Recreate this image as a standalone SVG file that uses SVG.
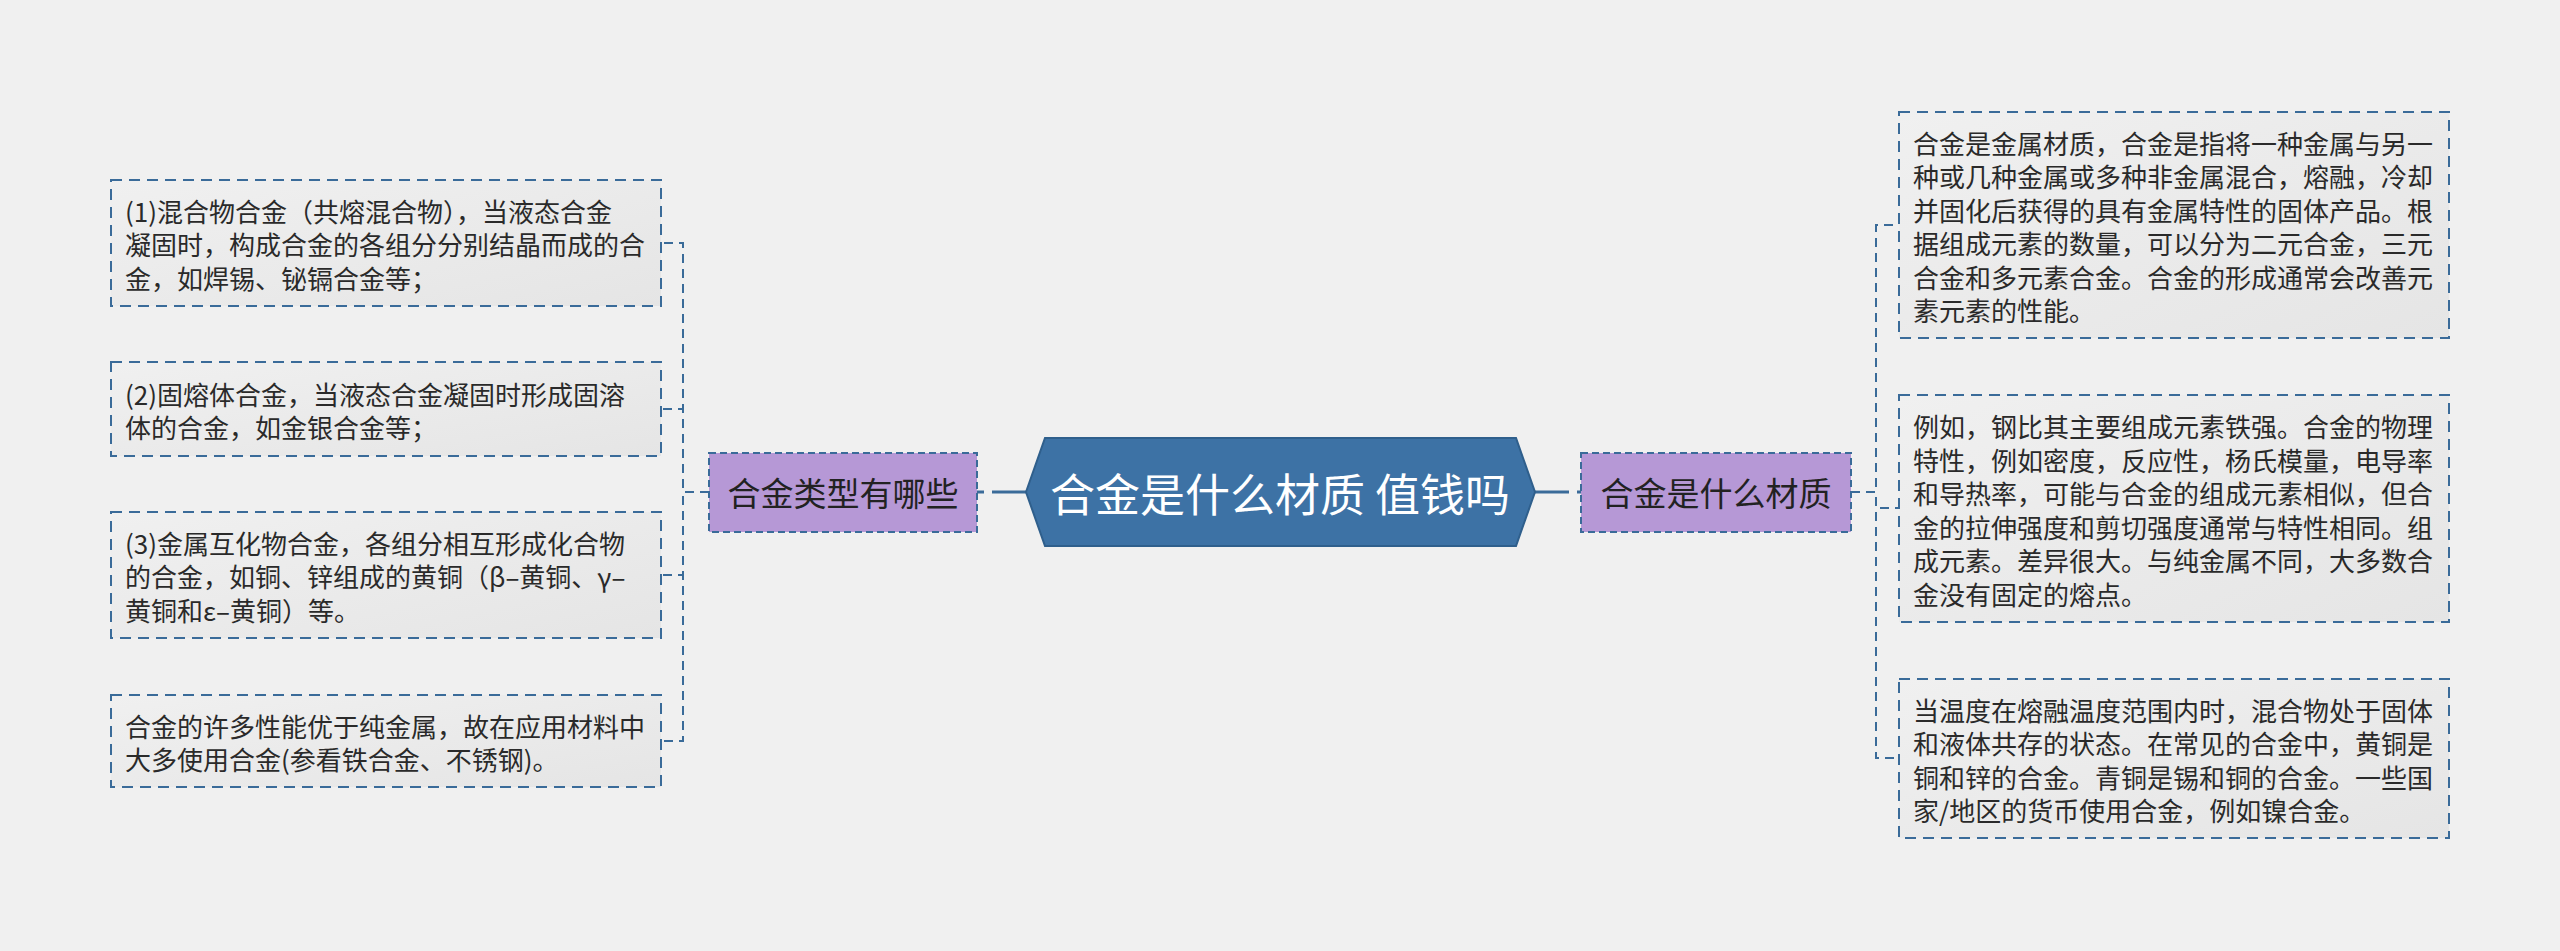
<svg xmlns="http://www.w3.org/2000/svg" width="2560" height="951" viewBox="0 0 2560 951">
<defs>
<linearGradient id="boxg" x1="0" y1="0" x2="1" y2="1">
<stop offset="0" stop-color="#f0f0f0"/>
<stop offset="1" stop-color="#e5e5e5"/>
</linearGradient>
<style>
.bg{fill:#f0f0f0}
.box{fill:url(#boxg);stroke:#3a6b99;stroke-width:2;stroke-dasharray:11 7}
.sub{fill:#b698d6;stroke:#3a6b99;stroke-width:2;stroke-dasharray:7 4}
.root{fill:#3d72a5;stroke:#2f5f8c;stroke-width:2}
.t{font-family:"Noto Sans CJK SC","Noto Sans",sans-serif;font-size:26px;fill:#2a2a2a}
.ts{font-family:"Noto Sans CJK SC","Noto Sans",sans-serif;font-size:33px;fill:#222;text-anchor:middle;dominant-baseline:central}
.tr{font-family:"Noto Sans CJK SC","Noto Sans",sans-serif;font-size:45px;fill:#ffffff;text-anchor:middle;dominant-baseline:central}
.c{fill:none;stroke:#3a6b99;stroke-width:2;stroke-dasharray:9 6}
.cm{fill:none;stroke:#3a6b99;stroke-width:3;stroke-dasharray:34 8}
</style>
</defs>
<rect class="bg" x="0" y="0" width="2560" height="951"/>
<g id="connectors">
<path class="cm" d="M1026 492 H977"/>
<path class="cm" d="M1535 492 H1581"/>
<path class="c" d="M709 492 H683 V243 H661"/>
<path class="c" d="M709 492 H683 V409 H661"/>
<path class="c" d="M709 492 H683 V575 H661"/>
<path class="c" d="M709 492 H683 V741 H661"/>
<path class="c" d="M1851 492 H1876 V225 H1899"/>
<path class="c" d="M1851 492 H1876 V508 H1899"/>
<path class="c" d="M1851 492 H1876 V758 H1899"/>
</g>
<g id="root">
<polygon class="root" points="1026,492 1045,438 1516,438 1535,492 1516,546 1045,546"/>
<text class="tr" x="1280" y="492">合金是什么材质 值钱吗</text>
</g>
<g id="left-topic">
<rect class="sub" x="709" y="453" width="268" height="79"/>
<text class="ts" x="843" y="492">合金类型有哪些</text>
</g>
<g id="right-topic">
<rect class="sub" x="1581" y="453" width="270" height="79"/>
<text class="ts" x="1716" y="492">合金是什么材质</text>
</g>
<g id="left-1">
<rect class="box" x="111" y="180" width="550" height="126"/>
<text class="t" dominant-baseline="central"><tspan x="125" y="209.5">(1)混合物合金（共熔混合物），当液态合金</tspan><tspan x="125" y="243">凝固时，构成合金的各组分分别结晶而成的合</tspan><tspan x="125" y="276.5">金，如焊锡、铋镉合金等；</tspan></text>
</g>
<g id="left-2">
<rect class="box" x="111" y="362" width="550" height="94"/>
<text class="t" dominant-baseline="central"><tspan x="125" y="392.5">(2)固熔体合金，当液态合金凝固时形成固溶</tspan><tspan x="125" y="426">体的合金，如金银合金等；</tspan></text>
</g>
<g id="left-3">
<rect class="box" x="111" y="512" width="550" height="126"/>
<text class="t" dominant-baseline="central"><tspan x="125" y="541.5">(3)金属互化物合金，各组分相互形成化合物</tspan><tspan x="125" y="575">的合金，如铜、锌组成的黄铜（β–黄铜、γ–</tspan><tspan x="125" y="608.5">黄铜和ε–黄铜）等。</tspan></text>
</g>
<g id="left-4">
<rect class="box" x="111" y="695" width="550" height="92"/>
<text class="t" dominant-baseline="central"><tspan x="125" y="724.5">合金的许多性能优于纯金属，故在应用材料中</tspan><tspan x="125" y="758">大多使用合金(参看铁合金、不锈钢)。</tspan></text>
</g>
<g id="right-1">
<rect class="box" x="1899" y="112" width="550" height="226"/>
<text class="t" dominant-baseline="central"><tspan x="1913" y="141.5">合金是金属材质，合金是指将一种金属与另一</tspan><tspan x="1913" y="175">种或几种金属或多种非金属混合，熔融，冷却</tspan><tspan x="1913" y="208.5">并固化后获得的具有金属特性的固体产品。根</tspan><tspan x="1913" y="242">据组成元素的数量，可以分为二元合金，三元</tspan><tspan x="1913" y="275.5">合金和多元素合金。合金的形成通常会改善元</tspan><tspan x="1913" y="309">素元素的性能。</tspan></text>
</g>
<g id="right-2">
<rect class="box" x="1899" y="395" width="550" height="227"/>
<text class="t" dominant-baseline="central"><tspan x="1913" y="425">例如，钢比其主要组成元素铁强。合金的物理</tspan><tspan x="1913" y="458.5">特性，例如密度，反应性，杨氏模量，电导率</tspan><tspan x="1913" y="492">和导热率，可能与合金的组成元素相似，但合</tspan><tspan x="1913" y="525.5">金的拉伸强度和剪切强度通常与特性相同。组</tspan><tspan x="1913" y="559">成元素。差异很大。与纯金属不同，大多数合</tspan><tspan x="1913" y="592.5">金没有固定的熔点。</tspan></text>
</g>
<g id="right-3">
<rect class="box" x="1899" y="679" width="550" height="159"/>
<text class="t" dominant-baseline="central"><tspan x="1913" y="708.5">当温度在熔融温度范围内时，混合物处于固体</tspan><tspan x="1913" y="742">和液体共存的状态。在常见的合金中，黄铜是</tspan><tspan x="1913" y="775.5">铜和锌的合金。青铜是锡和铜的合金。一些国</tspan><tspan x="1913" y="809">家/地区的货币使用合金，例如镍合金。</tspan></text>
</g>
</svg>
